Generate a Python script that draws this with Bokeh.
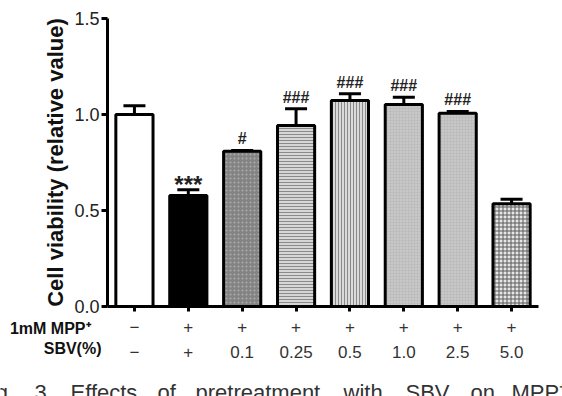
from bokeh.plotting import figure
from bokeh.layouts import column
from bokeh.models import ColumnDataSource, FixedTicker, Whisker, TeeHead
from bokeh.embed import file_html
from bokeh.resources import INLINE
from bokeh.core.properties import value

# ---- data -------------------------------------------------------------
groups = ["control", "MPP", "SBV 0.1", "SBV 0.25", "SBV 0.5",
          "SBV 1.0", "SBV 2.5", "SBV 5.0"]
viability = [1.00, 0.578, 0.808, 0.943, 1.073, 1.052, 1.007, 0.535]
sem = [0.045, 0.030, 0.005, 0.087, 0.035, 0.038, 0.009, 0.023]
significance = ["", "***", "#", "###", "###", "###", "###", ""]
mpp_row = ["\u2212", "+", "+", "+", "+", "+", "+", "+"]
sbv_row = ["\u2212", "+", "0.1", "0.25", "0.5", "1.0", "2.5", "5.0"]
row_titles = ["1mM MPP\u207a", "SBV(%)"]
y_ticks = [0.0, 0.5, 1.0, 1.5]
caption_words = ["Fig.", "3.", "Effects", "of", "pretreatment", "with",
                 "SBV", "on", "MPP\u207a-induced"]

# ---- bar styles -------------------------------------------------------
fills = ["white", "black", "#838383", "#d6d6d6", "#dadada", "#bdbdbd", "#bdbdbd", "#e6e6e6"]
hatches = [" ", " ", ".", "-", "|", ".", ".", "+"]
hatch_colors = ["white", "black", "#ababab", "#8a8a8a", "#8a8a8a", "#d8d8d8", "#d8d8d8", "#5a5a5a"]
hatch_scales = [6, 6, 4, 3, 3, 3, 3, 4]

FONT = "Liberation Sans"
W = 562
LEFT, RIGHT, TOP, BOTTOM = 107, 24, 18, 11
H_MAIN = TOP + 288 + BOTTOM
H_ROWS = 396 - H_MAIN
idx = list(range(len(groups)))
unit = (W - LEFT - RIGHT) / len(groups)      # pixels per bar slot

src = ColumnDataSource(dict(
    x=idx, top=viability,
    upper=[v + e for v, e in zip(viability, sem)],
    sig=significance, mpp=mpp_row, sbv=sbv_row,
    fill=fills, hatch=hatches, hcol=hatch_colors, hscale=hatch_scales,
))

# ---- main bar chart ---------------------------------------------------
p = figure(width=W, height=H_MAIN, x_range=(-0.5, len(groups) - 0.5),
           y_range=(0, 1.5), output_backend="svg", toolbar_location=None,
           min_border_left=LEFT, min_border_right=RIGHT, min_border_top=TOP,
           min_border_bottom=BOTTOM)
p.frame_align = False
p.outline_line_color = None
p.xgrid.grid_line_color = None
p.ygrid.grid_line_color = None

p.vbar(x="x", top="top", width=0.69, source=src, fill_color="fill",
       hatch_pattern="hatch", hatch_color="hcol", hatch_scale="hscale",
       hatch_weight=1, line_color="black", line_width=3)

p.add_layout(Whisker(source=src, base="x", lower="top", upper="upper",
                     dimension="height", line_width=3, line_color="black",
                     lower_head=None,
                     upper_head=TeeHead(size=22, line_width=3, line_color="black")))

# significance marks above the error bars
star_i = [i for i in idx if significance[i] == "***"]
hash_i = [i for i in idx if significance[i].startswith("#")]
sig_star = ColumnDataSource(dict(x=star_i, y=[viability[i] + sem[i] for i in star_i],
                                 t=[significance[i] for i in star_i]))
sig_hash = ColumnDataSource(dict(x=hash_i, y=[viability[i] + sem[i] for i in hash_i],
                                 t=[significance[i] for i in hash_i]))
p.text(x="x", y="y", text="t", source=sig_star, text_align="center",
       text_baseline="bottom", y_offset=8, text_font=value(FONT),
       text_font_size="24px", text_font_style="bold", text_color="#222222")
p.text(x="x", y="y", text="t", source=sig_hash, text_align="center",
       text_baseline="bottom", y_offset=-3, text_font=value(FONT),
       text_font_size="16px", text_font_style="bold", text_color="#222222")

# y axis
ya = p.yaxis[0]
ya.ticker = FixedTicker(ticks=y_ticks)
ya.major_label_overrides = {t: f"{t:.1f}" for t in y_ticks}
ya.axis_label = "Cell viability (relative value)"
ya.axis_label_text_font = FONT
ya.axis_label_text_font_size = "22px"
ya.axis_label_text_font_style = "bold"
ya.axis_label_text_color = "#111111"
ya.axis_label_standoff = 3
ya.major_label_text_font = FONT
ya.major_label_text_font_size = "18px"
ya.major_label_text_color = "#222222"
ya.major_label_standoff = 2
ya.axis_line_width = 3
ya.major_tick_line_width = 3
ya.major_tick_out = 6
ya.major_tick_in = 0
ya.minor_tick_line_color = None

# x axis: line and small tick marks only
xa = p.xaxis[0]
xa.ticker = FixedTicker(ticks=idx)
xa.axis_line_width = 3
xa.major_tick_line_width = 3
xa.major_tick_out = 5
xa.major_tick_in = 0
xa.minor_tick_line_color = None
xa.major_label_standoff = 0
xa.major_label_text_font_size = "0px"
xa.major_label_text_color = None

# ---- treatment rows and caption underneath -----------------------------
q = figure(width=W, height=H_ROWS,
           x_range=(-0.5 - LEFT / unit, len(groups) - 0.5 + RIGHT / unit),
           y_range=(H_ROWS, 0), output_backend="svg", toolbar_location=None,
           min_border=0)
q.frame_align = False
q.axis.visible = False
q.grid.grid_line_color = None
q.outline_line_color = None

top_px = H_MAIN
q.text(x="x", y=326 - top_px, text="mpp", source=src, text_align="center",
       text_baseline="middle", text_font=value(FONT), text_font_size="17px",
       text_color="#333333")
q.text(x="x", y=351 - top_px, text="sbv", source=src, text_align="center",
       text_baseline="middle", text_font=value(FONT), text_font_size="17px",
       text_color="#333333")
q.text(x=[-0.5, -0.5], y=[328 - top_px, 348 - top_px], text=row_titles,
       x_offset=[-17, -6], text_align="right", text_baseline="middle",
       text_font=value(FONT), text_font_size="16px", text_font_style="bold",
       text_color="#111111")

# caption words spread across the full width (left edges in pixels)
word_px = [-23, 34, 70, 157, 195, 343, 405, 470, 511]
q.text(x=[-0.5 + (px - LEFT) / unit for px in word_px],
       y=[392 - top_px] * len(word_px),
       text=caption_words, text_align="left", text_baseline="alphabetic",
       text_font=value(FONT), text_font_size="22px", text_color="#333333")

layout = column(p, q, spacing=0)
open("out.html", "w").write(file_html(layout, INLINE))
